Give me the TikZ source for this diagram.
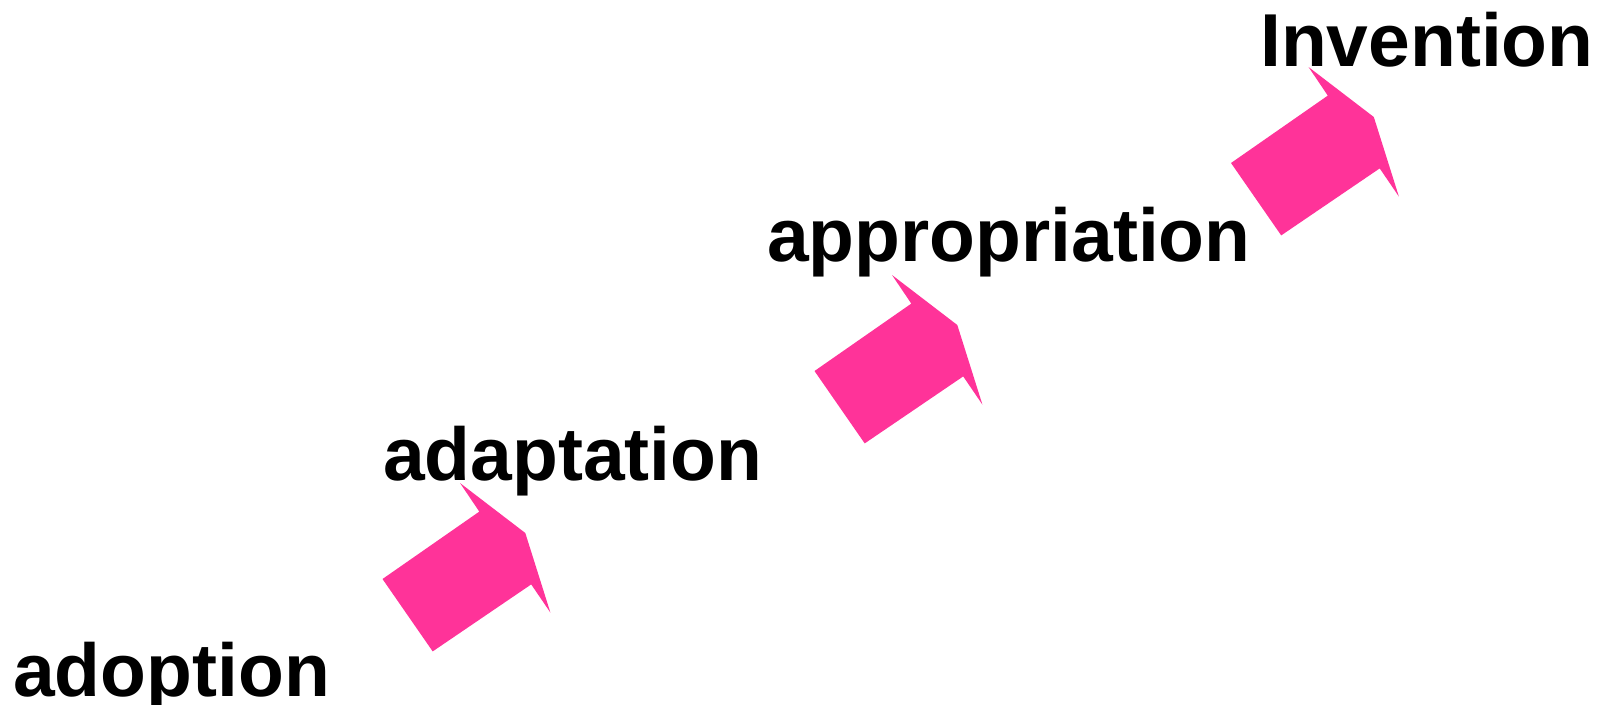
\documentclass[tikz,border=0pt]{standalone}
\usepackage{fontspec}
\setmainfont{Liberation Sans}
\definecolor{arrowpink}{HTML}{FF3399}
\begin{document}
\begin{tikzpicture}[x=1pt,y=-1pt,
  lbl/.style={inner sep=0pt,anchor=base west,font=\bfseries\fontsize{75}{90}\selectfont},
  pinkarrow/.pic={
    \fill[arrowpink] (382.5,579) -- (479.3,511.6) -- (460,483) -- (525.3,533)
      -- (550.4,612.6) -- (531.2,584.4) -- (432.7,651.4) -- cycle;
  }]
\useasboundingbox (0,0) rectangle (1605,704);
\node[lbl] (adoption) at (13,696) {adoption};
\node[lbl] (adaptation) at (383,480) {adaptation};
\node[lbl] (appropriation) at (767,261) {appropriation};
\node[lbl] (invention) at (1260,66) {Invention};
\pic (arrowA) at (0,0) {pinkarrow};
\pic (arrowB) at (432,-208) {pinkarrow};
\pic (arrowC) at (848.5,-416) {pinkarrow};
\end{tikzpicture}
\end{document}
